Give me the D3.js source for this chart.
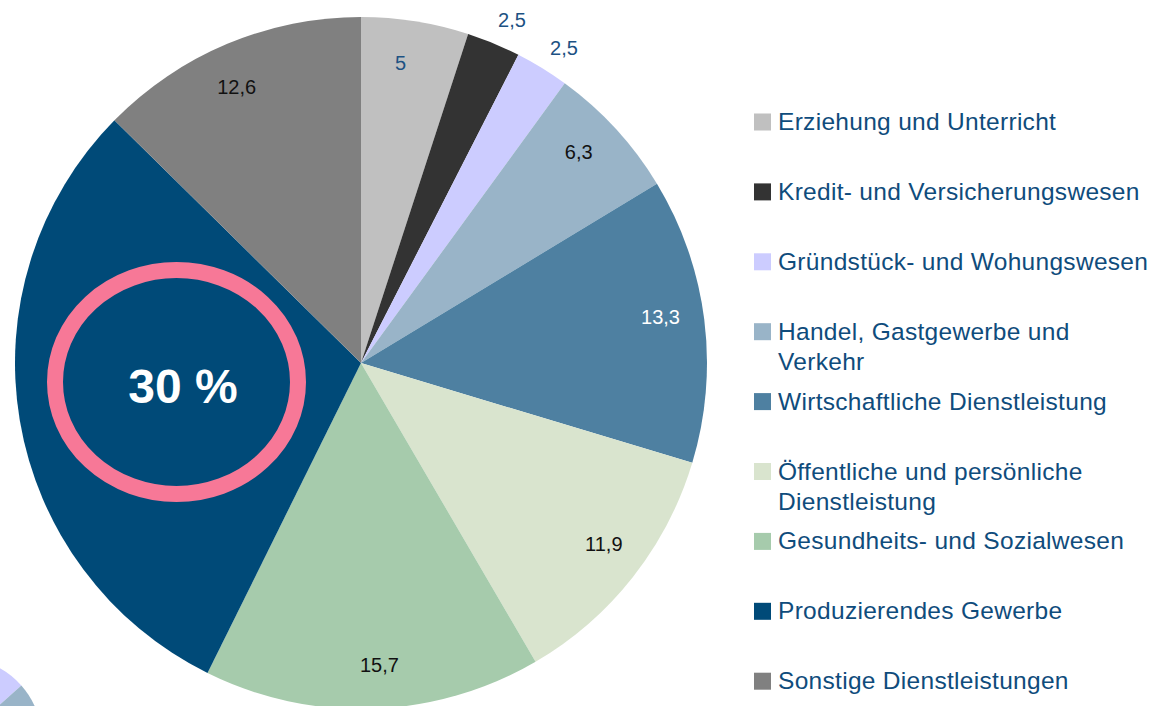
<!DOCTYPE html>
<html>
<head>
<meta charset="utf-8">
<script src="https://cdn.jsdelivr.net/npm/d3@7"></script>
<style>
  html, body { margin: 0; padding: 0; background: #fff; }
  svg { display: block; font-family: "Liberation Sans", Arial, sans-serif; }
</style>
</head>
<body>
<svg id="chart" width="1151" height="706"></svg>
<script>
// sectors, clockwise from 12 o'clock
const SECTORS = [
  "Erziehung und Unterricht",
  "Kredit- und Versicherungswesen",
  "Gründstück- und Wohungswesen",
  "Handel, Gastgewerbe und Verkehr",
  "Wirtschaftliche Dienstleistung",
  "Öffentliche und persönliche Dienstleistung",
  "Gesundheits- und Sozialwesen",
  "Produzierendes Gewerbe",
  "Sonstige Dienstleistungen",
];
const SHARES = [5, 2.5, 2.5, 6.3, 13.3, 11.9, 15.7, 30, 12.6];
const LABELS = ["5", "2,5", "2,5", "6,3", "13,3", "11,9", "15,7", "", "12,6"];
// legend lines (wrapped like the original)
const LEGEND_LINES = [
  ["Erziehung und Unterricht"],
  ["Kredit- und Versicherungswesen"],
  ["Gründstück- und Wohungswesen"],
  ["Handel, Gastgewerbe und", "Verkehr"],
  ["Wirtschaftliche Dienstleistung"],
  ["Öffentliche und persönliche", "Dienstleistung"],
  ["Gesundheits- und Sozialwesen"],
  ["Produzierendes Gewerbe"],
  ["Sonstige Dienstleistungen"],
];
const HIGHLIGHT = "30 %";

const COLORS = ["#c0c0c0", "#333333", "#ccccff", "#99b4c8", "#4e80a1",
                "#d9e4ce", "#a6cbac", "#004a78", "#808080"];
const LABEL_COLORS = ["#1d5283", "#1d5283", "#1d5283", "#111", "#fff",
                      "#111", "#111", "#fff", "#111"];
const TEXT_BLUE = "#0f4c7c";

const svg = d3.select("#chart");
const cx = 361, cy = 363, R = 346;

const pie = d3.pie().sort(null).value((d) => d);
const arcs = pie(SHARES);
const arc = d3.arc().innerRadius(0).outerRadius(R);

const g = svg.append("g").attr("transform", `translate(${cx},${cy})`);

g.selectAll("path.slice")
  .data(arcs)
  .join("path")
  .attr("class", "slice")
  .attr("d", arc)
  .attr("fill", (d, i) => COLORS[i]);

// value labels: inside ones on a ring, small slices pushed outside
const DEG = Math.PI / 180;
function polar(r, a) {
  return `translate(${r * Math.sin(a)},${-r * Math.cos(a)})`;
}
g.selectAll("text.val")
  .data(arcs.filter((d) => LABELS[d.index] !== ""))
  .join("text")
  .attr("class", "val")
  .attr("transform", (d) => {
    const mid = (d.startAngle + d.endAngle) / 2;
    if (d.value < 4) return polar(375, mid + 1.2 * DEG);
    return polar(303, mid - 1.5 * DEG);
  })
  .attr("text-anchor", "middle")
  .attr("dy", "0.35em")
  .attr("font-size", 20)
  .attr("fill", (d) => LABEL_COLORS[d.index])
  .text((d) => LABELS[d.index]);

// highlight ring over the largest slice
svg.append("ellipse")
  .attr("cx", 176.5).attr("cy", 382)
  .attr("rx", 121.5).attr("ry", 112)
  .attr("fill", "none")
  .attr("stroke", "#f77897")
  .attr("stroke-width", 16);

svg.append("text")
  .attr("x", 183).attr("y", 403)
  .attr("text-anchor", "middle")
  .attr("font-size", 48)
  .attr("font-weight", "bold")
  .attr("fill", "#fff")
  .text(HIGHLIGHT);

// fragment of a neighbouring pie peeking in at the bottom-left corner
const frag = d3.arc().innerRadius(0).outerRadius(82);
const fg = svg.append("g").attr("transform", "translate(-40,740)");
fg.append("path")
  .attr("d", frag({ startAngle: -0.2, endAngle: 48.4 * DEG }))
  .attr("fill", COLORS[2]);
fg.append("path")
  .attr("d", frag({ startAngle: 48.4 * DEG, endAngle: 2 }))
  .attr("fill", COLORS[3]);

// legend
const leg = svg.append("g").attr("transform", "translate(754,0)");
const rows = leg.selectAll("g.row")
  .data(SECTORS)
  .join("g")
  .attr("class", "row")
  .attr("transform", (d, i) => `translate(0,${122 + i * 69.9})`);

rows.append("rect")
  .attr("x", 0).attr("y", -8.5)
  .attr("width", 17).attr("height", 17)
  .attr("fill", (d, i) => COLORS[i]);

rows.append("text")
  .attr("x", 24)
  .attr("font-size", 24.5)
  .attr("letter-spacing", 0.3)
  .attr("fill", TEXT_BLUE)
  .selectAll("tspan")
  .data((d, i) => LEGEND_LINES[i])
  .join("tspan")
  .attr("x", 24)
  .attr("y", (d, j) => 8 + j * 30)
  .text((d) => d);
</script>
</body>
</html>
